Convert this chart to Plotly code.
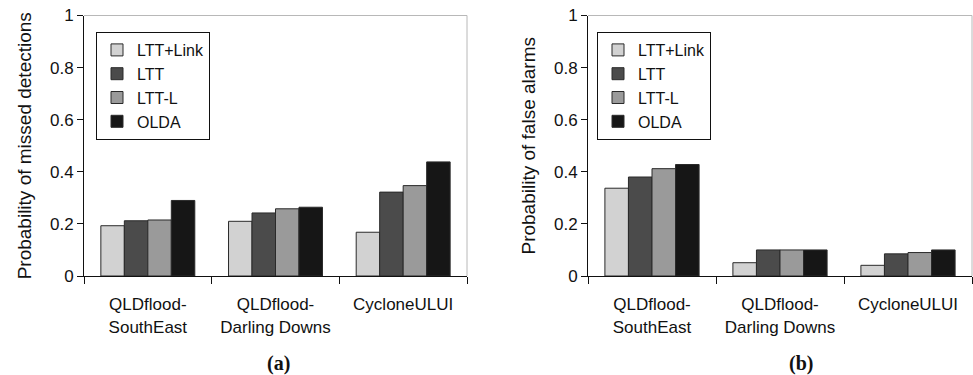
import plotly.graph_objects as go

categories = ["QLDflood-<br>SouthEast", "QLDflood-<br>Darling Downs", "CycloneULUI"]
series_names = ["LTT+Link", "LTT", "LTT-L", "OLDA"]
series_colors = ["#d2d2d2", "#4b4b4b", "#9a9a9a", "#161616"]

missed_ltt_link = [0.193, 0.210, 0.168]
missed_ltt = [0.212, 0.242, 0.322]
missed_ltt_l = [0.215, 0.258, 0.347]
missed_olda = [0.290, 0.264, 0.438]

false_ltt_link = [0.337, 0.051, 0.041]
false_ltt = [0.380, 0.100, 0.085]
false_ltt_l = [0.412, 0.100, 0.090]
false_olda = [0.428, 0.100, 0.100]

y_ticks = [0, 0.2, 0.4, 0.6, 0.8, 1]
y_tick_labels = ["0", "0.2", "0.4", "0.6", "0.8", "1"]

panel_titles = ["Probability of missed detections", "Probability of false alarms"]
panel_labels = ["(a)", "(b)"]

W, H = 973, 375
FONT = "Liberation Sans, Arial, sans-serif"

fig = go.Figure()

missed = [missed_ltt_link, missed_ltt, missed_ltt_l, missed_olda]
false_ = [false_ltt_link, false_ltt, false_ltt_l, false_olda]

for name, color, vals in zip(series_names, series_colors, missed):
    fig.add_trace(go.Bar(x=categories, y=vals, name=name, xaxis="x", yaxis="y",
                         marker=dict(color=color, line=dict(color="#2a2a2a", width=1)),
                         legend="legend"))
for name, color, vals in zip(series_names, series_colors, false_):
    fig.add_trace(go.Bar(x=categories, y=vals, name=name, xaxis="x2", yaxis="y2",
                         marker=dict(color=color, line=dict(color="#2a2a2a", width=1)),
                         legend="legend2"))

ydom = [1 - 276 / H, 1 - 15.5 / H]

def xax(domain, anchor):
    return dict(domain=domain, anchor=anchor, showline=True, linecolor="#111", linewidth=1,
                ticks="outside", tickson="boundaries", ticklen=7, tickcolor="#111",
                showgrid=False, automargin=False, tickfont=dict(size=17, color="#111", family=FONT),
                ticklabelstandoff=13, zeroline=False)

def yax(anchor, title):
    return dict(domain=ydom, anchor=anchor, range=[0, 1], tickvals=y_ticks, ticktext=y_tick_labels,
                showline=True, linecolor="#111", linewidth=1, ticks="outside", ticklen=6,
                tickcolor="#111", showgrid=False, zeroline=False, automargin=False,
                tickfont=dict(size=17, color="#111", family=FONT),
                title=dict(text=title, font=dict(size=19, color="#111", family=FONT), standoff=13))

legend_common = dict(xanchor="left", yanchor="top", bordercolor="#111", borderwidth=1,
                     bgcolor="white", font=dict(size=16, color="#111", family=FONT),
                     traceorder="normal")

fig.update_layout(
    width=W, height=H,
    margin=dict(l=0, r=0, t=0, b=0),
    paper_bgcolor="white", plot_bgcolor="white",
    barmode="group", bargap=0.264, bargroupgap=0,
    font=dict(family=FONT, size=16, color="#111"),
    xaxis=xax([84 / W, 467 / W], "y"),
    yaxis=yax("x", panel_titles[0]),
    xaxis2=xax([588 / W, 972 / W], "y2"),
    yaxis2=yax("x2", panel_titles[1]),
    legend=dict(x=96 / W, y=1 - 32 / H, **legend_common),
    legend2=dict(x=597 / W, y=1 - 32 / H, **legend_common),
    showlegend=True,
)

# light gray top/right frame of each plot area
for xr, yr in [("x domain", "y domain"), ("x2 domain", "y2 domain")]:
    fig.add_shape(type="line", xref=xr, yref=yr, x0=0, x1=1, y0=1, y1=1,
                  line=dict(color="#b8b8b8", width=1))
    fig.add_shape(type="line", xref=xr, yref=yr, x0=1, x1=1, y0=0, y1=1,
                  line=dict(color="#b8b8b8", width=1))

for lab, xc in zip(panel_labels, [278, 801]):
    fig.add_annotation(text="<b>%s</b>" % lab, x=xc / W, y=1 - 363 / H, xref="paper", yref="paper",
                       showarrow=False, xanchor="center", yanchor="middle",
                       font=dict(family="Liberation Serif, Times New Roman, serif", size=20, color="#111"))

fig.write_html("out.html")
